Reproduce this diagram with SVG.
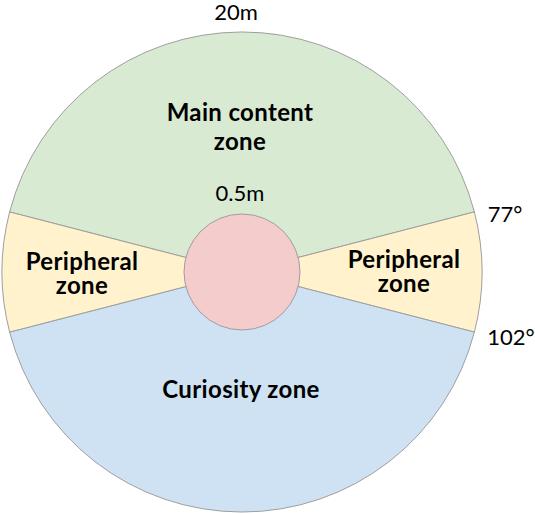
<svg xmlns="http://www.w3.org/2000/svg" width="535" height="514" viewBox="0 0 535 514">
<style>
.z{stroke:#9e9e9e;stroke-width:1}
.b{font-family:Lato,"Open Sans",sans-serif;font-weight:bold;font-size:24px;letter-spacing:0.35px;fill:#000;text-anchor:middle}
.r{font-family:Lato,"Open Sans",sans-serif;font-size:22px;fill:#000;text-anchor:middle}
</style>
<rect width="535" height="514" fill="#fff"/>
<g id="main-content-zone">
<path class="z" fill="#d9ead3" d="M242,272 L9.64,211.91 A240,240 0 0 1 474.36,211.91 Z"/>
<text class="b" x="240" y="121">Main content</text>
<text class="b" x="240" y="150">zone</text>
</g>
<g id="peripheral-zone-right">
<path class="z" fill="#fff2cc" d="M242,272 L474.36,211.91 A240,240 0 0 1 474.36,332.09 Z"/>
<text class="b" x="404" y="268">Peripheral</text>
<text class="b" x="404" y="292">zone</text>
</g>
<g id="curiosity-zone">
<path class="z" fill="#cfe2f3" d="M242,272 L474.36,332.09 A240,240 0 0 1 9.64,332.09 Z"/>
<text class="b" x="241" y="398">Curiosity zone</text>
</g>
<g id="peripheral-zone-left">
<path class="z" fill="#fff2cc" d="M242,272 L9.64,332.09 A240,240 0 0 1 9.64,211.91 Z"/>
<text class="b" x="82" y="270">Peripheral</text>
<text class="b" x="82" y="294">zone</text>
</g>
<g id="center">
<circle class="z" fill="#f4cccc" cx="242" cy="272" r="58"/>
</g>
<g id="labels">
<text class="r" x="236" y="20">20m</text>
<text class="r" x="240" y="201">0.5m</text>
<text class="r" x="505" y="222">77°</text>
<text class="r" x="511" y="345">102°</text>
</g>
</svg>
